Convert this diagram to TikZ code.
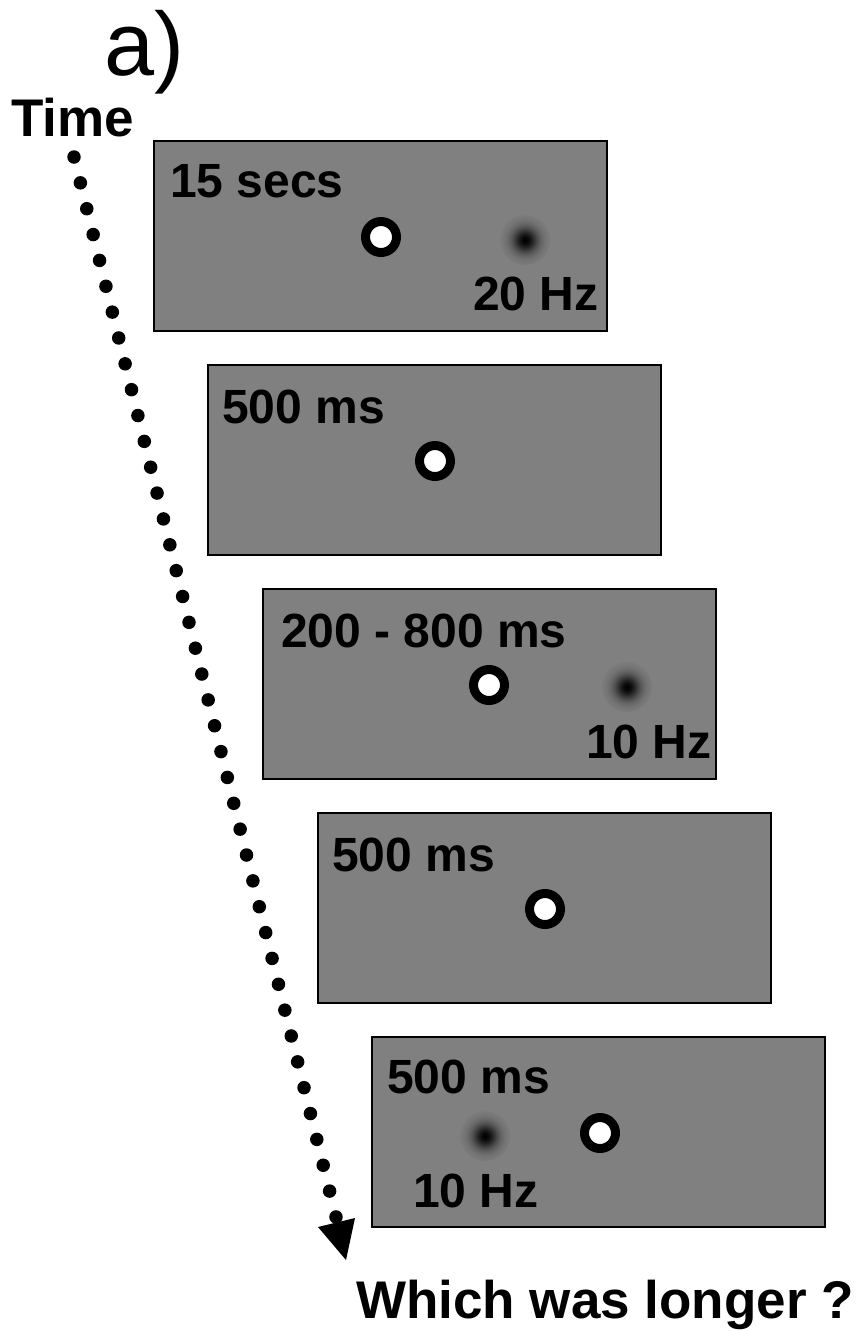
\documentclass[tikz,border=0pt]{standalone}
\usepackage{fontspec}
\setmainfont{Liberation Sans}
\usetikzlibrary{calc}
\pgfdeclareradialshading{gauss}{\pgfpoint{0bp}{0bp}}{%
  color(0bp)=(black); color(3.4bp)=(black!96); color(6.8bp)=(black!87);
  color(10.2bp)=(black!76); color(13.6bp)=(black!66); color(17bp)=(black!59);
  color(20.4bp)=(black!54.5); color(25bp)=(black!51.5); color(29bp)=(black!50.4);
  color(33bp)=(black!50); color(50bp)=(black!50)}
\begin{document}
\begin{tikzpicture}[x=1pt,y=-1pt,
  panel/.style={draw=black,line width=2pt,fill=black!50,rectangle,anchor=north west,
    minimum width=453pt,minimum height=190pt,inner sep=0pt,outer sep=0pt},
  fix/.style={circle,draw=black,line width=9pt,fill=white,minimum size=31pt,inner sep=0pt},
  lab/.style={anchor=base west,inner sep=0pt,font=\fontsize{48}{52}\selectfont\bfseries},
  dotline/.style={line width=13.5pt,line cap=round,dash pattern=on 0pt off 26.63pt},
  blob/.style={shading=gauss}]
\useasboundingbox (0,0) rectangle (857,1331);

\node[anchor=base west,inner sep=0pt,font=\fontsize{90}{94}\selectfont] (alabel) at (104,75) {a)};
\node[anchor=base west,inner sep=0pt,font=\fontsize{53}{57}\selectfont\bfseries] (time) at (11,136) {Time};
\node[anchor=base west,inner sep=0pt,font=\fontsize{53}{57}\selectfont\bfseries] (question) at (356,1318) {Which was longer ?};

% panels
\node[panel] (p1) at (154,141) {};
\node[panel] (p2) at (208,365) {};
\node[panel] (p3) at (263,589) {};
\node[panel] (p4) at (318,813) {};
\node[panel] (p5) at (372,1037) {};

% panel 1
\node[lab] (t1) at ([shift={(16,56)}]p1.north west) {15 secs};
\node[fix] (f1) at ([shift={(227,96)}]p1.north west) {};
\shade[blob] ([shift={(371,99)}]p1.north west) circle (25pt);
\node[lab] (h1) at ([shift={(319,169)}]p1.north west) {20 Hz};

% panel 2
\node[lab] (t2) at ([shift={(14,58)}]p2.north west) {500 ms};
\node[fix] (f2) at ([shift={(227,96)}]p2.north west) {};

% panel 3
\node[lab] (t3) at ([shift={(18,58)}]p3.north west) {200 - 800 ms};
\node[fix] (f3) at ([shift={(226,96)}]p3.north west) {};
\shade[blob] ([shift={(364,98)}]p3.north west) circle (25pt);
\node[lab] (h3) at ([shift={(323,169)}]p3.north west) {10 Hz};

% panel 4
\node[lab] (t4) at ([shift={(14,58)}]p4.north west) {500 ms};
\node[fix] (f4) at ([shift={(227,96)}]p4.north west) {};

% panel 5
\node[lab] (t5) at ([shift={(15,56)}]p5.north west) {500 ms};
\node[fix] (f5) at ([shift={(228,96)}]p5.north west) {};
\shade[blob] ([shift={(113,99)}]p5.north west) circle (25pt);
\node[lab] (h5) at ([shift={(41,170)}]p5.north west) {10 Hz};

% time arrow
\coordinate (d0) at (74,157);
\coordinate (d1) at (336,1217);
\draw[dotline] (d0) -- (d1);
\fill ([shift={(-18,10)}]d1) -- ([shift={(10,43)}]d1) -- ([shift={(19,1)}]d1) -- cycle;
\end{tikzpicture}
\end{document}
